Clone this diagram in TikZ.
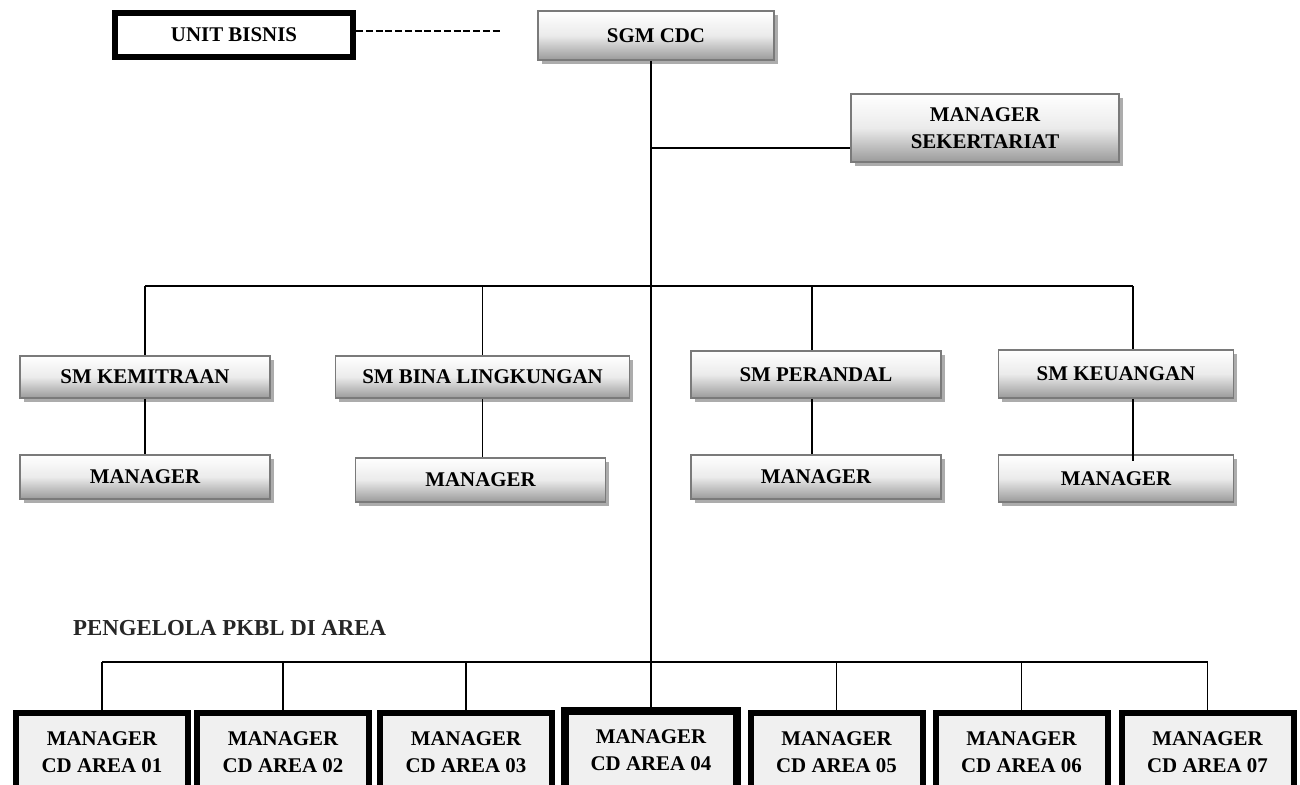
\documentclass[tikz,border=0pt]{standalone}
\usepackage{fontspec}
\setmainfont{Liberation Serif}
\usetikzlibrary{positioning, calc, shadows}
\definecolor{boxedge}{HTML}{7A7A7A}
\definecolor{boxshade}{HTML}{9A9A9A}
\definecolor{shadowgrey}{HTML}{8A8A8A}
\definecolor{cdfill}{HTML}{F0F0F0}

\begin{document}
\begin{tikzpicture}[font=\fontsize{11.9}{15.5}\selectfont\bfseries,
  shadebox/.style={draw=boxedge, line width=0.9pt, top color=white,
    bottom color=boxshade, middle color=white!80!boxshade, align=center,
    inner sep=2pt,
    drop shadow={shadow xshift=0.07cm, shadow yshift=-0.07cm,
      fill=shadowgrey, opacity=0.7}},
  thickbox/.style={draw=black, line width=1.2mm, fill=white, align=center},
  areabox/.style={draw=black, line width=1.2mm, fill=cdfill, align=center,
    minimum width=3.44cm, minimum height=1.56cm},
  link/.style={draw=black, line width=0.8pt}]
  \clip (0,0) rectangle (26,-15.7);
  \fill[white] (0,0) rectangle (26,-15.7);

  % top
  \node[thickbox, minimum width=4.76cm, minimum height=0.88cm]
    (unit) at (4.68,-0.70) {UNIT BISNIS};
  \node[shadebox, minimum width=4.72cm, minimum height=0.98cm]
    (sgm) at (13.12,-0.71) {SGM CDC};
  \node[shadebox, minimum width=5.36cm, minimum height=1.36cm]
    (sek) at (19.70,-2.56) {MANAGER\\SEKERTARIAT};
  \coordinate (dashend) at (10.04,-0.62);
  \draw[line width=1.1pt, dash pattern=on 1.4mm off 0.55mm]
    (unit.east |- dashend) -- (dashend);

  % senior managers
  \node[shadebox, minimum width=5.0cm, minimum height=0.84cm]
    (smkem) at (2.90,-7.54) {SM KEMITRAAN};
  \node[shadebox, minimum width=5.88cm, minimum height=0.84cm]
    (smbina) at (9.65,-7.54) {SM BINA LINGKUNGAN};
  \node[shadebox, minimum width=5.0cm, minimum height=0.94cm]
    (smper) at (16.32,-7.49) {SM PERANDAL};
  \node[shadebox, minimum width=4.7cm, minimum height=0.96cm]
    (smkeu) at (22.32,-7.48) {SM KEUANGAN};
  \node[shadebox, minimum width=5.0cm, minimum height=0.88cm]
    (mgkem) at (2.90,-9.54) {MANAGER};
  \node[shadebox, minimum width=5.0cm, minimum height=0.88cm]
    (mgbina) at (9.61,-9.60) {MANAGER};
  \node[shadebox, minimum width=5.0cm, minimum height=0.88cm]
    (mgper) at (16.32,-9.54) {MANAGER};
  \node[shadebox, minimum width=4.7cm, minimum height=0.94cm]
    (mgkeu) at (22.32,-9.57) {MANAGER};

  % area managers
  \node[anchor=west, font=\fontsize{13}{15}\selectfont\bfseries, text=black!85]
    (pkbl) at (1.34,-12.56) {PENGELOLA PKBL DI AREA};
  \foreach \n/\x in {01/2.04, 02/5.66, 03/9.32, 05/16.73, 06/20.43, 07/24.15}{%
    \node[areabox] (cd\n) at (\x,-15.04) {MANAGER\\CD AREA \n};}
  \node[areabox, line width=1.6mm] (cd04) at (13.02,-15.00)
    {MANAGER\\CD AREA 04};

  % connectors
  \coordinate (smline) at (0,-5.72);
  \coordinate (cdline) at (0,-13.24);
  \coordinate (sekjoin) at (13.02,-2.96);
  \coordinate (keudrop) at (22.66,-5.72);
  \draw[link] (sgm.south -| cd04.north) -- (cd04.north);
  \draw[link] (sekjoin) -- (sekjoin -| sek.west);
  \draw[link] (smkem.north |- smline) -- (keudrop);
  \draw[link] (cd01.north |- cdline) -- (cd07.north |- cdline);
  \foreach \a/\b in {smkem/mgkem, smbina/mgbina}{%
    \draw[link] (\a.north |- smline) -- (\a.north);
    \draw[link] (\a.south) -- (\b.north -| \a.south);}
  \draw[link] ([xshift=-0.08cm]smper.north |- smline)
    -- ([xshift=-0.08cm]smper.north);
  \draw[link] ([xshift=-0.08cm]smper.south) -- ([xshift=-0.08cm]mgper.north);
  \draw[link] (keudrop) -- (keudrop |- smkeu.north);
  \draw[link] (keudrop |- smkeu.south) -- ([yshift=-0.14cm]keudrop |- mgkeu.north);
  \foreach \n in {01,02,03,05,06,07}{%
    \draw[link] (cd\n.north |- cdline) -- (cd\n.north);}
\end{tikzpicture}
\end{document}
